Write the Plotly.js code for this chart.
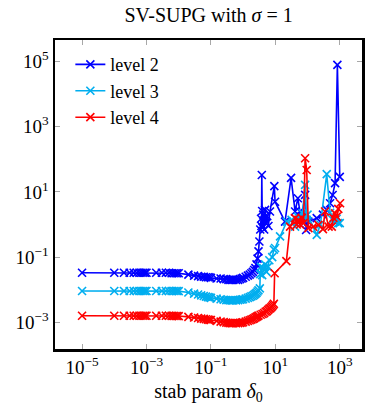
<!DOCTYPE html>
<html>
<head>
<meta charset="utf-8">
<script src="https://cdn.plot.ly/plotly-3.0.1.min.js"></script>
<style>
  html, body { margin: 0; padding: 0; background: #fff; }
  #plot { width: 366px; height: 411px; }
</style>
</head>
<body>
<div id="plot"></div>
<script>
// ---- data (stab param delta_0 vs error) ----
// shared low grid for delta_0
const lowDelta = [1e-5, 1e-4, 2e-4, 3e-4, 4e-4, 5e-4, 6e-4, 7e-4, 8e-4, 9e-4,
  1e-3, 2e-3, 3e-3, 4e-3, 5e-3, 6e-3, 7e-3, 8e-3, 9e-3,
  0.01, 0.02, 0.03, 0.04, 0.05, 0.06, 0.07, 0.08, 0.09,
  0.1, 0.15, 0.2, 0.25, 0.3, 0.35, 0.4, 0.45, 0.5, 0.6, 0.7, 0.8, 0.9,
  1.0, 1.2, 1.4, 1.6, 1.8, 2.0, 2.2, 2.4, 2.6, 2.8, 3.0];

// level 2
const level2High = [3.2, 3.4, 3.6, 3.7, 3.8, 3.9, 4.0, 4.2, 4.5, 4.8, 5.2, 5.6, 6.1, 6.8,
  9.3, 9.8, 20, 30.8, 41, 50, 58, 66, 84, 90, 106, 193, 300, 394, 500, 600, 715, 842, 1000];
const level2Err = [0.033, 0.033, 0.033, 0.033, 0.033, 0.033, 0.033, 0.033, 0.033, 0.033,
  0.033, 0.033, 0.033, 0.033, 0.033, 0.032, 0.032, 0.032, 0.032,
  0.032, 0.029, 0.027, 0.026, 0.025, 0.025, 0.024, 0.024, 0.024,
  0.023, 0.022, 0.022, 0.021, 0.021, 0.020, 0.020, 0.020, 0.020, 0.020, 0.020, 0.021, 0.022,
  0.023, 0.025, 0.027, 0.029, 0.032, 0.035, 0.040, 0.046, 0.06, 0.09, 0.15,
  0.3, 0.7, 1.5, 0.9, 33, 2.6, 0.8, 2.0, 0.7, 2.8, 1.1, 1.8, 0.9, 2.5,
  15, 5.0, 1.23, 27, 2.5, 6.4, 2.5, 1.8, 8.1, 0.68, 1.23, 1.56, 2.0, 2.8, 4.5, 8.0, 18.5, 78700, 29];

// level 3
const level3High = [3.3, 3.4, 3.6, 3.9, 4.3, 4.8, 5.3, 5.9, 6.5, 8.0, 9.0, 9.8, 14, 22.6,
  32, 41, 50, 60, 70, 84, 94, 100, 193, 250, 394, 500, 600, 715, 800, 900, 1000];
const level3Err = [0.0091, 0.0091, 0.0091, 0.0091, 0.0091, 0.0091, 0.0091, 0.0091, 0.0091, 0.0091,
  0.0091, 0.0091, 0.0091, 0.0091, 0.0091, 0.0091, 0.0091, 0.0091, 0.0091,
  0.0090, 0.0082, 0.0076, 0.0071, 0.0067, 0.0064, 0.0061, 0.0059, 0.0058,
  0.0056, 0.0053, 0.0051, 0.0049, 0.0048, 0.0048, 0.0047, 0.0047, 0.0047, 0.0047, 0.0048, 0.0049, 0.0050,
  0.0051, 0.0053, 0.0056, 0.0059, 0.0062, 0.0065, 0.0069, 0.0074, 0.0080, 0.0088, 0.0096,
  0.011, 0.03, 0.05, 0.028, 0.045, 0.06, 0.035, 0.05, 0.08, 0.1, 0.17, 0.19, 0.43, 1.23,
  1.38, 0.86, 1.75, 1.5, 2.2, 16.4, 1.38, 2.0, 0.48, 1.0, 35, 2.3, 1.4, 1.23, 1.5, 1.1, 1.1];

// level 4
const level4High = [3.5, 4.0, 4.5, 5.0, 5.5, 6.0, 6.5, 7.0, 7.5, 8.0, 8.5, 9.0, 9.5,
  22, 28.6, 41, 46, 52, 58, 66, 75, 84, 94, 106, 150, 216, 300, 349, 450, 565, 630, 715, 807, 900, 1021];
const level4Err = [0.00158, 0.00158, 0.00158, 0.00158, 0.00158, 0.00158, 0.00158, 0.00158, 0.00158, 0.00158,
  0.00158, 0.00158, 0.00158, 0.00158, 0.00158, 0.00157, 0.00157, 0.00156, 0.00156,
  0.00155, 0.00146, 0.0014, 0.00135, 0.0013, 0.00127, 0.00124, 0.00121, 0.00119,
  0.00117, 0.0011, 0.00105, 0.00101, 0.00098, 0.00096, 0.00094, 0.00093, 0.00093, 0.00093, 0.00094, 0.00096, 0.00098,
  0.001, 0.00105, 0.0011, 0.00115, 0.0012, 0.00126, 0.00132, 0.0014, 0.00146, 0.00153, 0.0016,
  0.0017, 0.0018, 0.0019, 0.0021, 0.0022, 0.0024, 0.0026, 0.0027, 0.0029, 0.0031, 0.0034, 0.0037, 0.032,
  0.075, 0.86, 1.56, 1.0, 1.38, 1.0, 1.6, 1.1, 108, 47, 0.77, 0.85, 0.97, 0.72, 2.5, 0.86, 0.86, 1.6, 2.2, 1.75, 3.0, 4.5];

const xTickVals = [1e-5, 1e-3, 1e-1, 1e1, 1e3];
const xTickText = ['10<sup>−5</sup>', '10<sup>−3</sup>', '10<sup>−1</sup>', '10<sup>1</sup>', '10<sup>3</sup>'];
const yTickVals = [1e-3, 1e-1, 1e1, 1e3, 1e5];
const yTickText = ['10<sup>−3</sup>', '10<sup>−1</sup>', '10<sup>1</sup>', '10<sup>3</sup>', '10<sup>5</sup>'];

const serif = '"Liberation Serif", "DejaVu Serif", serif';

function makeTrace(name, xs, ys, color) {
  return {
    x: xs,
    y: ys,
    name: name,
    type: 'scatter',
    mode: 'lines+markers',
    line: { color: color, width: 1.6 },
    marker: { symbol: 'x-thin', size: 8, color: color, line: { color: color, width: 1.6 } }
  };
}

const traces = [
  makeTrace('level 2', lowDelta.concat(level2High), level2Err, '#0000ff'),
  makeTrace('level 3', lowDelta.concat(level3High), level3Err, '#00aeef'),
  makeTrace('level 4', lowDelta.concat(level4High), level4Err, '#ff0000')
];

const axisStyle = {
  type: 'log',
  showline: true,
  linecolor: '#000',
  linewidth: 2.5,
  mirror: 'ticks',
  ticks: 'inside',
  ticklen: 5,
  tickwidth: 1,
  tickcolor: '#a8a8a8',
  showgrid: false,
  zeroline: false,
  tickfont: { family: serif, size: 19, color: '#000' }
};

const layout = {
  width: 366,
  height: 411,
  margin: { l: 55, r: 4, t: 40, b: 62 },
  paper_bgcolor: '#fff',
  plot_bgcolor: '#fff',
  title: {
    text: 'SV-SUPG with <i>σ</i> = 1',
    font: { family: serif, size: 20, color: '#000' },
    x: 0.57, xref: 'container',
    y: 0.964, yref: 'container', yanchor: 'middle'
  },
  xaxis: Object.assign({}, axisStyle, {
    range: [-5.84, 3.69],
    tickvals: xTickVals,
    ticktext: xTickText,
    title: { text: 'stab param <i>δ</i><sub>0</sub>', font: { family: serif, size: 20, color: '#000' }, standoff: 7 }
  }),
  yaxis: Object.assign({}, axisStyle, {
    range: [-3.82, 5.66],
    tickvals: yTickVals,
    ticktext: yTickText
  }),
  showlegend: true,
  legend: {
    x: 0.05, y: 0.98, xanchor: 'left', yanchor: 'top',
    bgcolor: 'rgba(255,255,255,0)',
    borderwidth: 0,
    font: { family: serif, size: 18, color: '#000' },
    tracegroupgap: 0
  }
};

Plotly.newPlot('plot', traces, layout, { displayModeBar: false, staticPlot: true });
</script>
</body>
</html>
